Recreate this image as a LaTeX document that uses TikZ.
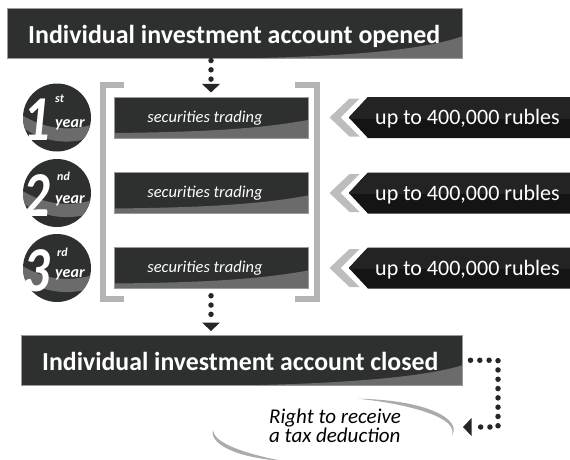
\documentclass[tikz,border=0pt]{standalone}
\usepackage{fontspec}
\setmainfont{Carlito}
\usetikzlibrary{calc,shapes.symbols,arrows.meta}
\definecolor{dark}{HTML}{2E3030}
\definecolor{swgray}{HTML}{6B6B6B}
\definecolor{edgec}{HTML}{9A9A9A}
\definecolor{brk}{HTML}{B4B4B4}
\definecolor{chev}{HTML}{BDBDBD}
\definecolor{bantop}{HTML}{232323}
\definecolor{banbot}{HTML}{141414}
\definecolor{dotc}{HTML}{262626}
\definecolor{arcc}{HTML}{ABABAB}
\begin{document}
\begin{tikzpicture}[x=1pt,y=-1pt,
  banner/.style={rectangle, fill=dark, draw=edgec, line width=0.5pt, inner sep=0pt,
    path picture={\fill[swgray] let \p1=(path picture bounding box.south east) in
      (\x1-215pt,\y1) .. controls (\x1-110pt,\y1+2pt) and (\x1-35pt,\y1+9pt) .. (\x1,\y1+#1) -- (\x1,\y1) -- cycle;}},
  headtext/.style={text=white, inner sep=0pt, font=\fontsize{26}{26}\selectfont\bfseries},
  secbox/.style={rectangle, fill=dark, draw=edgec, line width=0.5pt, minimum width=194pt, minimum height=41pt, inner sep=0pt,
    path picture={\fill[swgray] let \p1=(path picture bounding box.south west), \p2=(path picture bounding box.south east) in
      (\x1,\y1) -- (\x1,\y1+5pt) .. controls (\x1+90pt,\y1+6pt) and (\x2-50pt,\y2+9pt) .. (\x2,\y2+18pt) -- (\x2,\y2) -- cycle;}},
  sectext/.style={text=white, inner sep=0pt, font=\fontsize{16.5}{16.5}\selectfont\itshape},
  yearc/.style={circle, fill=dark, minimum size=68pt, inner sep=0pt,
    path picture={\fill[swgray] let \p0=(path picture bounding box.center) in
      (\x0-36pt,\y0+3pt) .. controls (\x0-12pt,\y0-12pt) and (\x0+12pt,\y0-14pt) .. (\x0+36pt,\y0-7pt)
      -- (\x0+36pt,\y0-20pt) .. controls (\x0+12pt,\y0-27pt) and (\x0-12pt,\y0-26pt) .. (\x0-36pt,\y0-9pt) -- cycle;}},
  bigdig/.style={text=white, inner sep=0pt, font=\fontsize{64}{64}\selectfont\bfseries\itshape},
  supt/.style={text=white, inner sep=0pt, font=\fontsize{12}{12}\selectfont\bfseries\itshape},
  yeart/.style={text=white, inner sep=0pt, font=\fontsize{16}{16}\selectfont\bfseries\itshape},
  limitban/.style={signal, signal to=west, signal from=nowhere, signal pointer angle=94,
    minimum width=221pt, minimum height=41pt, inner sep=0pt, fill=banbot,
    path picture={\fill[bantop] (path picture bounding box.north west) rectangle ($(path picture bounding box.east)+(0pt,-1pt)$);}},
  limittext/.style={text=white, inner sep=0pt, font=\fontsize{22}{22}\selectfont},
  chevron/.style={fill=chev},
  bracket/.style={draw=brk, line width=6pt, line join=miter, line cap=butt},
  dotline/.style={draw=dotc, line width=5.5pt, line cap=round, dash pattern=on 0pt off 9.3pt},
  dotarrow/.style={dotline, -{Triangle[width=18pt,length=8.5pt,line width=0pt]}},
  righttext/.style={text=black, inner sep=0pt, align=left, font=\fontsize{21}{17}\selectfont\itshape},
  arcstroke/.style={fill=arcc}
]
\useasboundingbox (0,0) rectangle (570,459);

% top banner
\node[banner=22pt, minimum width=455pt, minimum height=50pt, anchor=north west] (open) at (7,8) {};
\node[headtext, anchor=base west] (opentxt) at (28,43) {\resizebox{412pt}{\height}{Individual investment account opened}};

% bracket
\draw[bracket] (124,84.5) -- (102.5,84.5) -- (102.5,299) -- (124,299);
\draw[bracket] (295,84.5) -- (316.5,84.5) -- (316.5,299) -- (295,299);

% rows
\foreach \i/\cy/\sup/\sx/\sdy/\ydy in {1/117.5/st/55/-15/10, 2/193/nd/57/-13/10, 3/268/rd/57/-12/9}{
  \node[yearc] (c\i) at (57,\cy) {};
  \node[bigdig, anchor=base east] (n\i) at (50,\cy+23) {\scalebox{0.82}[1]{\i}};
  \node[supt, anchor=base west] (s\i) at (\sx,\cy+\sdy) {\sup};
  \node[yeart, anchor=base west] (w\i) at (55,\cy+\ydy) {year};
  \node[secbox] (sec\i) at (211,\cy) {};
  \node[sectext, anchor=base] (sect\i) at (205,\cy+4.5) {securities trading};
  \node[limitban, anchor=east] (lim\i) at (570,\cy) {};
  \fill[chevron] ($(lim\i.west)+(-19pt,0pt)$) -- ($(lim\i.west)+(1pt,19pt)$) -- ($(lim\i.west)+(11pt,19pt)$)
     -- ($(lim\i.west)+(-8pt,0pt)$) -- ($(lim\i.west)+(11pt,-19pt)$) -- ($(lim\i.west)+(1pt,-19pt)$) -- cycle;
  \node[limittext, anchor=base west] (limt\i) at (375,\cy+7) {up to 400,000 rubles};
}

% bottom banner
\node[banner=20pt, minimum width=441pt, minimum height=50pt, anchor=north west] (close) at (21,335) {};
\node[headtext, anchor=base west] (closetxt) at (42,370) {\resizebox{396pt}{\height}{Individual investment account closed}};

% dotted arrows
\draw[dotarrow] ($(sec1.north |- open.south)+(0pt,-2pt)$) -- ($(sec1.north)+(0pt,4.3pt)$);
\draw[dotarrow] ($(sec3.south)+(0pt,-7pt)$) -- ($(sec3.south |- close.north)+(0pt,4pt)$);
\coordinate (turn) at (498,427);
\coordinate (tipR) at (463,427);
\draw[dotarrow] ($(close.east)+(8pt,0pt)$) -| (turn) -- (tipR);

% right to receive
\node[righttext, anchor=north west] (rtxt) at (269,409) {Right to receive\\a tax deduction};

% swoosh arcs
\fill[arcstroke] plot[domain=78:-7, samples=40] ({333+(120+2.2*sin((\x-78)*180/(-85)))*cos(\x)}, {431-(33+2.2*sin((\x-78)*180/(-85)))*sin(\x)})
  -- plot[domain=-7:78, samples=40] ({333+(120-2.2*sin((\x-78)*180/(-85)))*cos(\x)}, {431-(33-2.2*sin((\x-78)*180/(-85)))*sin(\x)}) -- cycle;
\fill[arcstroke] plot[domain=178:246, samples=40] ({333+(120+2.2*sin((\x-178)*180/68))*cos(\x)}, {431-(33+2.2*sin((\x-178)*180/68))*sin(\x)})
  -- plot[domain=246:178, samples=40] ({333+(120-2.2*sin((\x-178)*180/68))*cos(\x)}, {431-(33-2.2*sin((\x-178)*180/68))*sin(\x)}) -- cycle;
\end{tikzpicture}
\end{document}
